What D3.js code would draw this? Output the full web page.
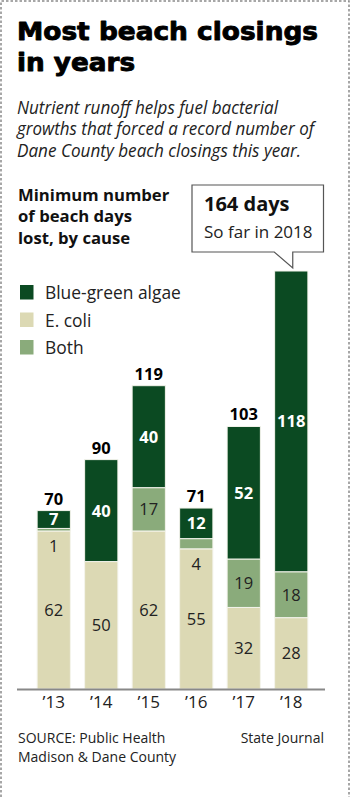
<!DOCTYPE html>
<html>
<head>
<meta charset="utf-8">
<script src="https://cdn.jsdelivr.net/npm/d3@7"></script>
<style>
  html, body { margin: 0; padding: 0; background: #fff; }
  svg { display: block; }
</style>
</head>
<body>
<script>
// ---- data ----
const years = ["2013", "2014", "2015", "2016", "2017", "2018"];
const yearLabels = ["\u201913", "\u201914", "\u201915", "\u201916", "\u201917", "\u201918"];
const ecoli = [62, 50, 62, 55, 32, 28];
const both = [1, 0, 17, 4, 19, 18];
const algae = [7, 40, 40, 12, 52, 118];
const seriesNames = ["Blue-green algae", "E. coli", "Both"];
const calloutTitle = "164 days";
const calloutSub = "So far in 2018";

const W = 350, H = 797;
const colors = { algae: "#0b4a22", ecoli: "#dcd9b4", both: "#8aab7b" };
const sans = "'Open Sans', 'Noto Sans', sans-serif";

const svg = d3.select("body").append("svg").attr("width", W).attr("height", H);

// dashed frame
svg.append("path")
  .attr("d", `M1,${H} L1,1 L349,1 L349,${H}`)
  .attr("fill", "none").attr("stroke", "#8a8a8a").attr("stroke-width", 1.5)
  .attr("stroke-dasharray", "2.5,2");

// title
const titleLines = [{ t: "Most beach closings", w: 301, y: 40 }, { t: "in years", w: 118, y: 70.5 }];
svg.append("g").selectAll("text").data(titleLines).join("text")
  .attr("x", 17).attr("y", d => d.y)
  .attr("textLength", d => d.w).attr("lengthAdjust", "spacingAndGlyphs")
  .style("font-family", "'DejaVu Sans', sans-serif").style("font-weight", 700)
  .style("font-size", "25px").attr("fill", "#000")
  .attr("stroke", "#000").attr("stroke-width", 0.9).attr("stroke-linejoin", "round")
  .text(d => d.t);

// subtitle
const sub = [{ t: "Nutrient runoff helps fuel bacterial", w: 261 },
  { t: "growths that forced a record number of", w: 297 },
  { t: "Dane County beach closings this year.", w: 284 }];
svg.append("g").selectAll("text").data(sub).join("text")
  .attr("x", 17).attr("y", (d, i) => 113.5 + i * 21.7)
  .attr("textLength", d => d.w).attr("lengthAdjust", "spacingAndGlyphs")
  .style("font-family", "'Open Sans', sans-serif")
  .style("font-style", "italic").style("font-size", "18px").attr("fill", "#222")
  .text(d => d.t);

// chart heading
const head = ["Minimum number", "of beach days", "lost, by cause"];
svg.append("g").selectAll("text").data(head).join("text")
  .attr("x", 18).attr("y", (d, i) => 200.5 + i * 21.7)
  .style("font-family", sans).style("font-weight", 700)
  .style("font-size", "16.7px").attr("fill", "#111")
  .text(d => d);

// legend
const legendColors = [colors.algae, colors.ecoli, colors.both];
const lg = svg.append("g").selectAll("g").data(seriesNames).join("g")
  .attr("transform", (d, i) => `translate(20, ${285 + i * 27.5})`);
lg.append("rect").attr("width", 13.5).attr("height", 14.5).attr("fill", (d, i) => legendColors[i]);
lg.append("text").attr("x", 25).attr("y", 14.3)
  .style("font-family", sans).style("font-size", "17.4px").attr("fill", "#222")
  .text(d => d);

// scales
const x = d3.scaleBand().domain(years).range([30, 315]).paddingInner(0.3).paddingOuter(0.15);
const y = d3.scaleLinear().domain([0, 164]).range([689, 271]);

// stacked data
const rows = years.map((yr, i) => ({ year: yr, ecoli: ecoli[i], both: both[i], algae: algae[i] }));
const keys = ["ecoli", "both", "algae"];
const stack = d3.stack().keys(keys)(rows);

const gBars = svg.append("g");
stack.forEach(layer => {
  const key = layer.key;
  gBars.append("g").selectAll("rect").data(layer).join("rect")
    .attr("x", d => x(d.data.year))
    .attr("width", x.bandwidth())
    .attr("y", d => y(d[1]))
    .attr("height", d => Math.max(0, y(d[0]) - y(d[1])))
    .attr("fill", colors[key])
    .attr("stroke", "#f4f4ec").attr("stroke-width", 1)
    .style("display", d => (d[1] - d[0]) > 0 ? null : "none");
});

// segment labels
stack.forEach(layer => {
  const key = layer.key;
  gBars.append("g").selectAll("text").data(layer.filter(d => d[1] - d[0] > 0)).join("text")
    .attr("x", d => x(d.data.year) + x.bandwidth() / 2)
    .attr("y", d => {
      const v = d[1] - d[0];
      if (key === "both" && v < 6) return y(d[0]) + 15;
      return (y(d[0]) + y(d[1])) / 2;
    })
    .attr("dy", "0.36em")
    .attr("text-anchor", "middle")
    .style("font-family", sans)
    .style("font-size", "16.5px")
    .style("font-weight", key === "algae" ? 700 : 400)
    .attr("fill", key === "algae" ? "#fff" : "#222")
    .text(d => d[1] - d[0]);
});

// totals
const topLayer = stack[stack.length - 1];
svg.append("g").selectAll("text").data(topLayer.filter(d => d.data.year !== "2018")).join("text")
  .attr("x", d => x(d.data.year) + x.bandwidth() / 2)
  .attr("y", d => y(d[1]) - 6)
  .attr("text-anchor", "middle")
  .style("font-family", sans).style("font-weight", 700).style("font-size", "16.5px")
  .attr("fill", "#000")
  .text(d => d[1]);

// axis
const axis = svg.append("g").attr("transform", `translate(0, ${y(0)})`)
  .call(d3.axisBottom(x).tickSize(0).tickPadding(7).tickFormat((d, i) => yearLabels[i]));
axis.select(".domain").remove();
axis.append("line").attr("x1", 17).attr("x2", 325).attr("y1", 0.5).attr("y2", 0.5)
  .attr("stroke", "#888").attr("stroke-width", 1.8);
axis.selectAll(".tick text")
  .style("font-family", sans).style("font-size", "17px").attr("fill", "#222");

// callout
const last = topLayer[topLayer.length - 1];
const cx = x(last.data.year) + x.bandwidth() / 2;
const apexY = y(last[1]) - 3;
const bx0 = 192, bx1 = 323.5, by0 = 185, by1 = 252;
const px0 = cx - 17, px1 = cx + 1.5;
svg.append("path")
  .attr("d", `M${bx0},${by0} L${bx1},${by0} L${bx1},${by1} L${px1},${by1} L${px1},${apexY} L${px0},${by1} L${bx0},${by1} Z`)
  .attr("fill", "#fff").attr("stroke", "#555").attr("stroke-width", 1.2);
svg.append("text").attr("x", 204).attr("y", 210.5)
  .style("font-family", sans).style("font-weight", 700).style("font-size", "20px")
  .attr("fill", "#111").text(calloutTitle);
svg.append("text").attr("x", 204).attr("y", 238)
  .style("font-family", sans).style("font-size", "17px")
  .attr("fill", "#222").text(calloutSub);

// source
svg.append("text").attr("x", 18).attr("y", 743)
  .style("font-family", sans).style("font-size", "14px").attr("fill", "#222")
  .text("SOURCE: Public Health");
svg.append("text").attr("x", 18).attr("y", 761.5)
  .style("font-family", sans).style("font-size", "14px").attr("fill", "#222")
  .text("Madison & Dane County");
svg.append("text").attr("x", 324).attr("y", 743).attr("text-anchor", "end")
  .style("font-family", sans).style("font-size", "14px").attr("fill", "#222")
  .text("State Journal");
</script>
</body>
</html>
